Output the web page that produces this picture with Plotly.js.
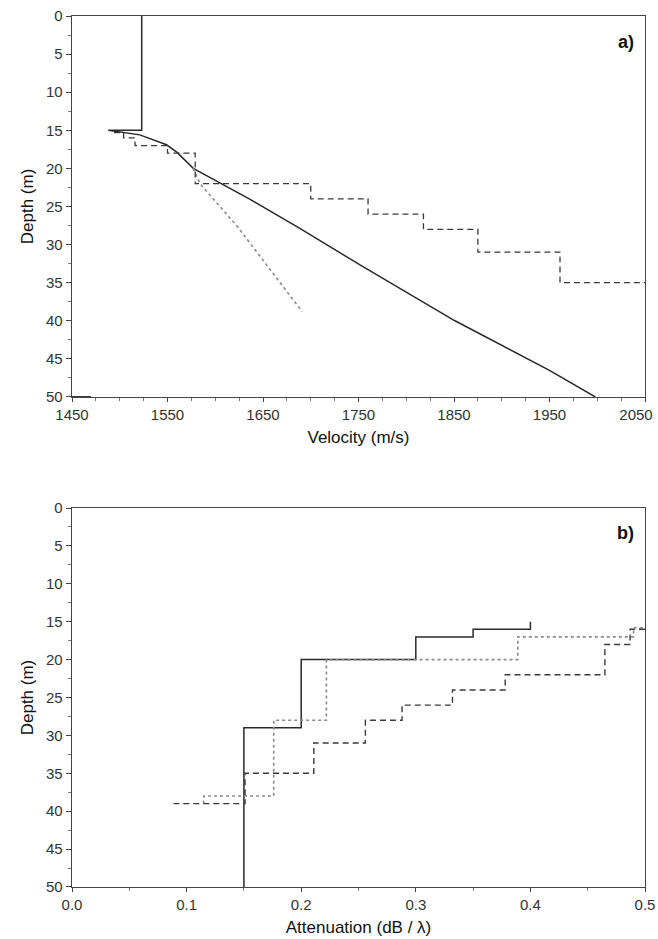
<!DOCTYPE html>
<html>
<head>
<meta charset="utf-8">
<script src="https://cdn.plot.ly/plotly-3.0.1.min.js"></script>
<style>html,body{margin:0;padding:0;background:#fff;}#chart{width:658px;height:939px;}</style>
</head>
<body>
<div id="chart"></div>
<script>
// ---- Panel a) velocity profiles ----
const solidVel   = [1523, 1523, 1488, 1521, 1549, 1560, 1577, 1602, 1637, 1689, 1752, 1851, 1950, 1998];
const solidVelD  = [0,    15,   15,   15.6, 16.9, 17.9, 20,   21.7, 24.1, 27.9, 32.7, 40.0, 46.5, 50];
const dottedVel  = [1577, 1584, 1623, 1691];
const dottedVelD = [20,   22,   27.6, 38.8];
const dashedVel  = [1494, 1504, 1504, 1516, 1516, 1550, 1550, 1579, 1579, 1700, 1700, 1760, 1760, 1818, 1818, 1875, 1875, 1961, 1961, 2050];
const dashedVelD = [15.3, 15.3, 16,   16,   17,   17,   18,   18,   22,   22,   24,   24,   26,   26,   28,   28,   31,   31,   35,   35];
const markVel    = [1450, 1470];
const markVelD   = [50, 50];

// ---- Panel b) attenuation profiles ----
const solidAtt   = [0.4, 0.4, 0.35, 0.35, 0.3, 0.3, 0.2, 0.2, 0.15, 0.15];
const solidAttD  = [15,  16,  16,   17,   17,  20,  20,  29,  29,   50];
const dottedAtt  = [0.498, 0.49, 0.49, 0.389, 0.389, 0.222, 0.222, 0.176, 0.176, 0.115, 0.115];
const dottedAttD = [15.8,  15.8, 17,   17,    20,    20,    28,    28,    38,    38,    39];
const dashedAtt  = [0.5, 0.487, 0.487, 0.465, 0.465, 0.378, 0.378, 0.332, 0.332, 0.288, 0.288, 0.256, 0.256, 0.211, 0.211, 0.151, 0.151, 0.0886];
const dashedAttD = [16,  16,    18,    18,    22,    22,    24,    24,    26,    26,    28,    28,    31,    31,    35,    35,    39,    39];

const velTicks = [1450, 1550, 1650, 1750, 1850, 1950, 2050];
const velTickText = ['1450', '1550', '1650', '1750', '1850', '1950', ''];
const velLastTick = [2050];
const velLastTickText = ['2050'];
const attTicks = [0.0, 0.1, 0.2, 0.3, 0.4, 0.5];
const attTickText = ['0.0', '0.1', '0.2', '0.3', '0.4', '0.5'];
const depthTicks = [0, 5, 10, 15, 20, 25, 30, 35, 40, 45, 50];

const dark = '#2a2a2a';
const mid = '#3a3a3a';
const grey = '#8a8a8a';

function tr(x, y, xa, ya, color, dash, width) {
  return {x: x, y: y, xaxis: xa, yaxis: ya, mode: 'lines', type: 'scatter', cliponaxis: false,
          line: {color: color, dash: dash, width: width}, hoverinfo: 'skip', showlegend: false};
}

const data = [
  tr(solidVel, solidVelD, 'x', 'y', dark, 'solid', 1.5),
  tr(dottedVel, dottedVelD, 'x', 'y', grey, 'dot', 1.6),
  tr(dashedVel, dashedVelD, 'x', 'y', mid, '6px,4px', 1.3),
  tr(markVel, markVelD, 'x', 'y', dark, 'solid', 1.8),
  tr(solidAtt, solidAttD, 'x2', 'y2', dark, 'solid', 1.5),
  tr(dottedAtt, dottedAttD, 'x2', 'y2', grey, 'dot', 1.6),
  tr(dashedAtt, dashedAttD, 'x2', 'y2', mid, '6px,4px', 1.4),
  // invisible carrier trace for the overlay axis holding the shifted last tick label
  {x: markVel, y: markVelD, xaxis: 'x3', yaxis: 'y', mode: 'lines', type: 'scatter',
   line: {color: 'rgba(0,0,0,0)', width: 0}, hoverinfo: 'skip', showlegend: false}
];

const tickFont = {family: 'Liberation Sans, Arial, sans-serif', size: 15, color: '#333'};
const titleFont = {family: 'Liberation Sans, Arial, sans-serif', size: 17, color: '#111'};

function yax(domain, anchor) {
  return {
    domain: domain, anchor: anchor, range: [50, 0], autorange: false,
    tickvals: depthTicks, ticktext: depthTicks.map(String),
    ticks: 'outside', ticklen: 5, tickwidth: 1, tickcolor: '#444',
    minor: {dtick: 2.5, tick0: 0, ticks: 'outside', ticklen: 2.5, tickcolor: '#777'},
    showline: true, linecolor: '#444', linewidth: 1.4, mirror: true,
    showgrid: false, zeroline: false, tickfont: tickFont,
    title: {text: 'Depth (m)', font: titleFont, standoff: 8}
  };
}
function xax(range, tickvals, ticktext, minorDtick, anchor, title) {
  return {
    anchor: anchor, range: range, autorange: false, domain: [0, 1],
    tickvals: tickvals, ticktext: ticktext,
    ticks: 'outside', ticklen: 4, tickwidth: 1, tickcolor: '#444',
    minor: {dtick: minorDtick, tick0: range[0], ticks: 'outside', ticklen: 3, tickcolor: '#777'},
    showline: true, linecolor: '#444', linewidth: 1.4, mirror: true,
    showgrid: false, zeroline: false, tickfont: tickFont, ticklabeloverflow: 'allow',
    title: {text: title, font: titleFont, standoff: 8}
  };
}

const layout = {
  width: 658, height: 939,
  margin: {l: 72, r: 13, t: 16, b: 52},
  paper_bgcolor: '#fff', plot_bgcolor: '#fff',
  showlegend: false,
  xaxis: xax([1450, 2050], velTicks, velTickText, 25, 'y', 'Velocity (m/s)'),
  xaxis3: {overlaying: 'x', anchor: 'y', side: 'bottom', range: [1450, 2050], autorange: false,
           tickvals: velLastTick, ticktext: velLastTickText,
           ticks: 'outside', ticklen: 4, tickwidth: 1, tickcolor: 'rgba(0,0,0,0)',
           showline: true, linewidth: 1.4, linecolor: 'rgba(0,0,0,0)',
           showgrid: false, zeroline: false, tickfont: tickFont, ticklabelshift: -9,
           ticklabeloverflow: 'allow'},
  yaxis: yax([0.5626, 1], 'x'),
  xaxis2: xax([0, 0.5], attTicks, attTickText, 0.05, 'y2', 'Attenuation (dB / λ)'),
  yaxis2: yax([0, 0.4351], 'x2'),
  annotations: [
    {text: '<b>a)</b>', xref: 'paper', yref: 'paper', x: 0.985, y: 0.970, xanchor: 'right', yanchor: 'middle',
     showarrow: false, font: {family: 'Liberation Sans, Arial, sans-serif', size: 18, color: '#111'}},
    {text: '<b>b)</b>', xref: 'paper', yref: 'paper', x: 0.985, y: 0.407, xanchor: 'right', yanchor: 'middle',
     showarrow: false, font: {family: 'Liberation Sans, Arial, sans-serif', size: 18, color: '#111'}}
  ]
};

Plotly.newPlot('chart', data, layout, {displayModeBar: false, staticPlot: true});
</script>
</body>
</html>
